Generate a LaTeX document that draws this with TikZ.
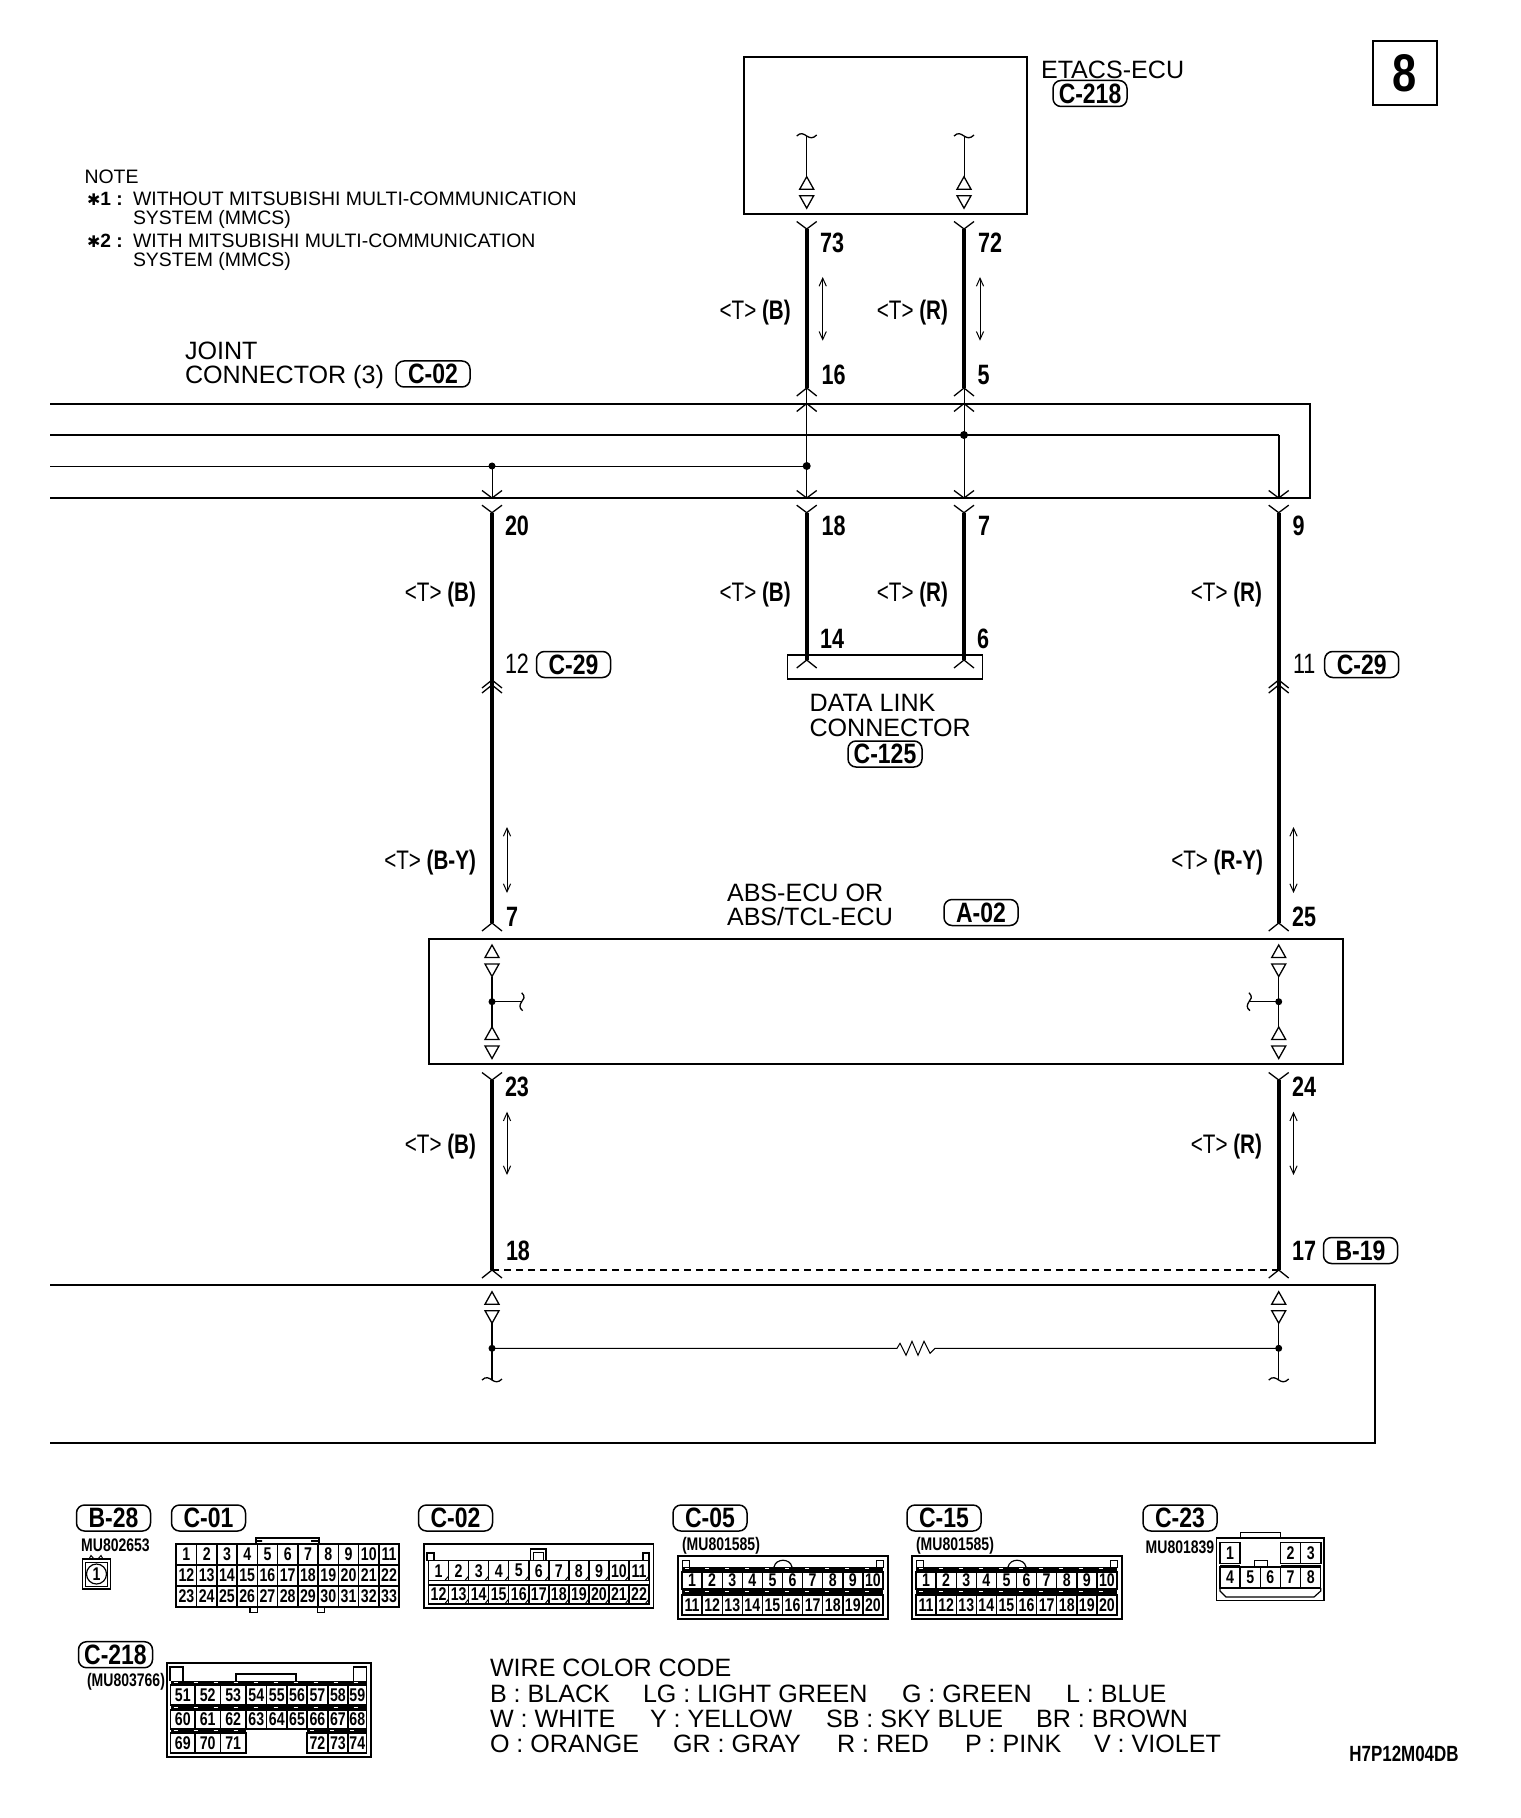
\documentclass[tikz,border=0pt]{standalone}
\usepackage{fontspec}
\usetikzlibrary{arrows.meta}
\setmainfont{Liberation Sans}
\newfontfamily\cond[FakeStretch=0.77]{Liberation Sans}
\newfontfamily\condt[FakeStretch=0.82]{Liberation Sans}
\newfontfamily\dvs{DejaVu Sans}
\newcommand\fs[1]{\fontsize{#1}{#1}\selectfont}
\tikzset{
  txt/.style={inner sep=0,outer sep=0,anchor=base west,font=\fs{12.55}},
  smalltxt/.style={inner sep=0,outer sep=0,anchor=base west,font=\fs{9.73}},
  numlab/.style={inner sep=0,outer sep=0,anchor=west,font=\cond\bfseries\fs{14}},
  wirelab/.style={inner sep=0,outer sep=0,anchor=east,yshift=-1.7pt,font=\cond\fs{13.4}},
  tagbox/.style={draw,line width=0.75pt,rounded corners=4pt,minimum width=37pt,minimum height=13pt,inner sep=0,font=\condt\bfseries\fs{14}},
  mucode/.style={inner sep=0,outer sep=0,font=\cond\bfseries\fs{9.1}},
  pin/.style={draw,line width=0.7pt,inner sep=0,outer sep=0,anchor=north west,font=\cond\bfseries\fs{9.2}},
  thickwire/.style={line width=2.2pt},
  thinwire/.style={line width=0.5pt},
  busline/.style={line width=1pt},
  boxline/.style={line width=1pt},
  symline/.style={line width=0.65pt},
  dbl/.style={line width=0.5pt,{Straight Barb[length=4pt,width=3.6pt]}-{Straight Barb[length=4pt,width=3.6pt]}},
  pics/yfork/.style={code={\draw[symline] (-10,-7.5)--(0,0)--(10,-7.5);}},
  pics/chev/.style={code={\draw[symline] (-10,8)--(0,0)--(10,8);}},
  pics/tripair/.style={code={
    \draw[symline,line join=miter] (0,0)--(-7,12.5)--(7,12.5)--cycle;
    \draw[symline,line join=miter] (-7,19)--(7,19)--(0,31.5)--cycle;}},
  pics/htilde/.style={code={\draw[symline] (-10,0) .. controls (-6,-4) and (-3,-2) .. (0,0) .. controls (3,2) and (6,3) .. (10,-1);}},
  pics/vtilde/.style={code={\draw[symline] (0,-9) .. controls (4,-5) and (2,-2) .. (0,0) .. controls (-2,3) and (-3,6) .. (1,9);}},
}
\newcommand\pinrow[6]{\foreach \n [count=\c from 0] in {#6} {%
  \pgfmathsetmacro\xx{#2+\c*#4}%
  \node[pin,minimum width=#4*0.5pt,minimum height=#5*0.5pt] (#1-\n) at (\xx,#3) {\n};}}
\newcommand\pinirr[4]{\foreach \n/\l/\r in {#4} {%
  \pgfmathsetmacro\ww{\r-\l}%
  \node[pin,minimum width=\ww*0.5pt,minimum height=#3*0.5pt] (#1-\n) at (\l,#2) {\n};}}
\newcommand\band[4]{\fill (#1,#3) rectangle (#2,#3+#4);
  \draw[white,line width=0.3pt,dash pattern=on 2pt off 8pt] (#1+3,#3+1) -- (#2,#3+1);}
\begin{document}
\begin{tikzpicture}[x=0.5pt,y=-0.5pt,line cap=butt]
\fill[white] (0,0) rectangle (1520,1818);
\useasboundingbox (0,0) rectangle (1520,1818);
% page number
\node[draw,line width=1pt,minimum width=32pt,minimum height=32pt,inner sep=0,font=\condt\bfseries\fs{26.5}] (pagenum) at (1405,73) {8};
% notes
\node[smalltxt] (note) at (84.5,184) {NOTE};
\node[smalltxt] (n1a) at (133,206) {WITHOUT MITSUBISHI MULTI-COMMUNICATION};
\node[smalltxt] (n1b) at (133,225) {SYSTEM (MMCS)};
\node[smalltxt] (n2a) at (133,248) {WITH MITSUBISHI MULTI-COMMUNICATION};
\node[smalltxt] (n2b) at (133,267) {SYSTEM (MMCS)};
\node[smalltxt,font=\bfseries\fs{9.6}] (n1s) at (87,206) {{\dvs\fs{8}✱}1 :};
\node[smalltxt,font=\bfseries\fs{9.6}] (n2s) at (87,248) {{\dvs\fs{8}✱}2 :};
% ETACS
\node[draw,boxline,minimum width=141.5pt,minimum height=78.5pt,inner sep=0] (etacs) at (885.3,135.4) {};
\node[txt] (etacslab) at (1041,78.5) {ETACS-ECU};
\node[tagbox] (t218) at (1090,93.5) {C-218};
% joint
\node[txt] (jt1) at (185,359.5) {JOINT};
\node[txt] (jt2) at (185,384) {CONNECTOR (3)};
\node[tagbox] (t02) at (433,374) {C-02};
% coordinates
\foreach \nm/\xc in {b/806.7,c/964}{
  \coordinate (\nm tilde) at (\xc,136);
  \coordinate (\nm tri) at (\xc,176.7);
  \coordinate (\nm top) at (\xc,229);
  \coordinate (\nm mid) at (\xc,388);
  \coordinate (\nm chv) at (\xc,403.5);
  \coordinate (\nm jn) at (\xc,498);
  \coordinate (\nm low) at (\xc,512.7);
  \coordinate (\nm end) at (\xc,660);
}
\foreach \nm in {b,c}{
  \draw[thinwire] (\nm tilde) -- (\nm tri);
  \pic at (\nm tilde) {htilde};
  \pic at (\nm tri) {tripair};
  \pic at (\nm top) {yfork};
  \draw[thickwire] (\nm top) -- (\nm mid);
  \pic at (\nm mid) {chev};
  \pic at (\nm chv) {chev};
  \draw[thinwire] (\nm mid) -- (\nm jn);
  \pic at (\nm jn) {yfork};
  \pic at (\nm low) {yfork};
  \draw[thickwire] (\nm low) -- (\nm end);
  \pic at (\nm end) {chev};
}
% buses
\coordinate (bL1) at (50,404); \coordinate (bR1) at (1310.3,404);
\coordinate (bR4) at (1310.3,498); \coordinate (bL4) at (50,498);
\coordinate (bL2) at (50,435); \coordinate (bR2) at (1278.7,435);
\coordinate (bL3) at (50,466); \coordinate (dn3) at (806.7,466);
\coordinate (dn2) at (964,435); \coordinate (dn1) at (492,466);
\draw[busline] (bL1) -- (bR1) -- (bR4) -- (bL4);
\draw[busline] (bL2) -- (bR2);
\draw[thinwire] (bL3) -- (dn3);
\fill (dn3) circle (4); \fill (dn2) circle (4); \fill (dn1) circle (3.5);
% vertical wires left and right
\foreach \nm/\xc in {a/492,d/1278.7}{
  \coordinate (\nm jn) at (\xc,498);
  \coordinate (\nm low) at (\xc,512.7);
  \coordinate (\nm chA) at (\xc,680);
  \coordinate (\nm chB) at (\xc,685);
  \coordinate (\nm ecu) at (\xc,923);
  \coordinate (\nm tA) at (\xc,945);
  \coordinate (\nm dot) at (\xc,1001.7);
  \coordinate (\nm tB) at (\xc,1027);
  \coordinate (\nm tAe) at (\xc,976.5);
  \coordinate (\nm y) at (\xc,1080);
  \coordinate (\nm bot) at (\xc,1270);
  \coordinate (\nm tC) at (\xc,1291.7);
  \coordinate (\nm tCe) at (\xc,1323);
  \coordinate (\nm dotc) at (\xc,1348.3);
  \coordinate (\nm til) at (\xc,1380);
}
\draw[thinwire] (dn1) -- (ajn);
\draw[line width=0.8pt] (bR2) -- (djn);
\foreach \nm in {a,d}{
  \pic at (\nm jn) {yfork};
  \pic at (\nm low) {yfork};
  \draw[thickwire] (\nm low) -- (\nm ecu);
  \pic at (\nm chA) {chev};
  \pic at (\nm chB) {chev};
  \pic at (\nm ecu) {chev};
  \pic at (\nm tA) {tripair};
  \pic at (\nm tB) {tripair};
  \draw[symline] (\nm tAe) -- (\nm tB);
  \fill (\nm dot) circle (3.5);
  \pic at (\nm y) {yfork};
  \draw[thickwire] (\nm y) -- (\nm bot);
  \pic at (\nm bot) {chev};
  \pic at (\nm tC) {tripair};
  \draw[symline] (\nm tCe) -- (\nm til);
  \fill (\nm dotc) circle (3.5);
  \pic at (\nm til) {htilde};
}
\coordinate (atail) at (521.7,1001.7); \coordinate (dtail) at (1249,1001.7);
\draw[symline] (adot) -- (atail); \pic at (atail) {vtilde};
\draw[symline] (ddot) -- (dtail); \pic at (dtail) {vtilde};
\draw[line width=0.7pt,dash pattern=on 3.7pt off 2.3pt] (abot) -- (dbot);
% resistor
\coordinate (rA) at (897,1348.3); \coordinate (rB) at (935,1348.3);
\draw[thinwire] (adotc) -- (rA) -- ++(3,-5) -- ++(6,12) -- ++(6,-14) -- ++(6,14) -- ++(6,-14) -- ++(6,12) -- (rB) -- (ddotc);
% boxes
\node[draw,boxline,minimum width=457pt,minimum height=62.6pt,inner sep=0] (abs) at (886,1001.7) {};
\draw[boxline] (50,1285) -- (1375,1285) -- (1375,1442.7) -- (50,1442.7);
\node[draw,line width=0.8pt,minimum width=97.5pt,minimum height=11.8pt,inner sep=0] (dlc) at (885,667) {};
% wire labels
\node[wirelab] (l1) at (790.7,309) {<T> \textbf{(B)}};
\node[wirelab] (l2) at (948,309) {<T> \textbf{(R)}};
\node[wirelab] (l3) at (476,591.5) {<T> \textbf{(B)}};
\node[wirelab] (l4) at (790.7,591.5) {<T> \textbf{(B)}};
\node[wirelab] (l5) at (948,591.5) {<T> \textbf{(R)}};
\node[wirelab] (l6) at (1262,591.5) {<T> \textbf{(R)}};
\node[wirelab] (l7) at (476,859) {<T> \textbf{(B-Y)}};
\node[wirelab] (l8) at (1263,859) {<T> \textbf{(R-Y)}};
\node[wirelab] (l9) at (476,1143) {<T> \textbf{(B)}};
\node[wirelab] (l10) at (1262,1143) {<T> \textbf{(R)}};
% numbers
\node[numlab] (p73) at (820,243) {73};
\node[numlab] (p72) at (978,243) {72};
\node[numlab] (p16) at (821.7,375) {16};
\node[numlab] (p5) at (977.7,375) {5};
\node[numlab] (p18a) at (821.7,526) {18};
\node[numlab] (p7a) at (978,526) {7};
\node[numlab] (p20) at (505,526) {20};
\node[numlab] (p9) at (1292.7,526) {9};
\node[numlab] (p14) at (820,639) {14};
\node[numlab] (p6) at (977,639) {6};
\node[numlab,font=\cond\fs{14}] (p12) at (505,664) {12};
\node[numlab,font=\cond\fs{14}] (p11) at (1293,664) {11};
\node[numlab] (p7b) at (506,916.5) {7};
\node[numlab] (p25) at (1292,916.5) {25};
\node[numlab] (p23) at (505,1086.7) {23};
\node[numlab] (p24) at (1292,1086.7) {24};
\node[numlab] (p18b) at (506,1250.7) {18};
\node[numlab] (p17) at (1292,1250.7) {17};
\node[tagbox] (t29a) at (573.5,664.5) {C-29};
\node[tagbox] (t29b) at (1361.7,664.5) {C-29};
\node[tagbox] (t19) at (1360.5,1250.5) {B-19};
\node[tagbox] (tA02) at (981,912.5) {A-02};
\node[tagbox] (t125) at (885,754) {C-125};
\node[txt] (dl1) at (809.5,711.5) {DATA LINK};
\node[txt] (dl2) at (809.5,736) {CONNECTOR};
\node[txt] (ab1) at (727,901) {ABS-ECU OR};
\node[txt] (ab2) at (727,925.5) {ABS/TCL-ECU};
% double arrows
\draw[dbl] (822.7,277) -- (822.7,340.7);
\draw[dbl] (980,277) -- (980,340.7);
\draw[dbl] (507,827) -- (507,893);
\draw[dbl] (1293.5,827) -- (1293.5,893);
\draw[dbl] (507,1111.7) -- (507,1175);
\draw[dbl] (1293.5,1111.7) -- (1293.5,1175);
% ---- connector pictures ----
\node[tagbox] (tB28) at (113.5,1518) {B-28};
\node[tagbox] (tC01) at (208.5,1518) {C-01};
\node[tagbox] (tC02) at (455.5,1518) {C-02};
\node[tagbox] (tC05) at (710,1518) {C-05};
\node[tagbox] (tC15) at (944,1518) {C-15};
\node[tagbox] (tC23) at (1180,1518) {C-23};
\node[tagbox] (tC218) at (115.5,1654.7) {C-218};
\node[mucode] (mB28) at (115.5,1545) {MU802653};
\node[mucode] (mC05) at (721,1546) {(MU801585)};
\node[mucode] (mC15) at (955,1546) {(MU801585)};
\node[mucode] (mC23) at (1180,1547) {MU801839};
\node[mucode] (mC218) at (126,1682) {(MU803766)};
% B-28
\draw[line width=0.8pt] (82.4,1559) rectangle (110.6,1589);
\draw[line width=0.5pt] (85.5,1562) rectangle (107.5,1586);
\draw[line width=0.5pt] (89,1559) -- (91,1555.5) -- (94,1559) (98,1559) -- (101,1555.5) -- (103,1559);
\node[draw,circle,line width=0.6pt,minimum size=10pt,inner sep=0,font=\cond\bfseries\fs{9.2}] (pB28) at (96.5,1574) {1};
% C-01
\draw[line width=1pt] (176.3,1544) rectangle (399.2,1607);
\pinrow{C01}{176.3}{1544}{20.26}{21}{1,2,3,4,5,6,7,8,9,10,11}
\pinrow{C01}{176.3}{1565}{20.26}{21}{12,13,14,15,16,17,18,19,20,21,22}
\pinrow{C01}{176.3}{1586}{20.26}{21}{23,24,25,26,27,28,29,30,31,32,33}
\draw[line width=0.6pt] (256,1544) -- (256,1541) -- (262,1541) -- (256,1541) -- (256,1538) -- (319,1538) -- (319,1541) -- (311,1541) -- (319,1541) -- (319,1544);
\draw[line width=0.6pt] (250,1607) -- (250,1612.5) -- (257.6,1612.5) -- (257.6,1607);
\draw[line width=0.6pt] (317.6,1607) -- (317.6,1612.5) -- (324.5,1612.5) -- (324.5,1607);
% C-02
\draw[line width=0.9pt] (423.7,1544) rectangle (653.5,1608);
\pinrow{C02}{428.6}{1560.7}{20.04}{20}{1,2,3,4,5,6,7,8,9,10,11}
\pinrow{C02}{428.6}{1585}{20.04}{19}{12,13,14,15,16,17,18,19,20,21,22}
\draw[line width=0.5pt] (428.6,1580.7) -- (428.6,1585) (649,1580.7) -- (649,1585);
\foreach \i in {1,...,11}{
  \pgfmathsetmacro\xx{428.6+\i*20.04}
  \draw[line width=0.5pt] (\xx-4,1580.7) -- (\xx,1576) (\xx-4,1604) -- (\xx,1599);
}
\draw[line width=0.6pt] (427,1560.7) |- (434,1553) -- (434,1560.7);
\draw[line width=0.6pt] (643,1560.7) |- (649,1553) -- (649,1560.7);
\draw[line width=0.8pt] (530.6,1560.7) |- (546,1549) -- (546,1560.7);
\draw[line width=0.5pt] (533.5,1560.7) |- (543,1552) -- (543,1560.7);
% C-05 and C-15
\foreach \pre/\ox in {C05/0,C15/234}{
  \draw[line width=1pt] (678+\ox,1556) rectangle (888+\ox,1619);
  \pinrow{\pre}{682+\ox}{1572}{20.1}{17}{1,2,3,4,5,6,7,8,9,10}
  \pinrow{\pre}{682+\ox}{1595}{20.1}{20}{11,12,13,14,15,16,17,18,19,20}
  \band{682+\ox}{883+\ox}{1567}{5}
  \band{682+\ox}{883+\ox}{1590}{5}
  \draw[line width=0.5pt] (682+\ox,1560) rectangle (689+\ox,1567);
  \draw[line width=0.5pt] (876.5+\ox,1560) rectangle (883+\ox,1567);
  \draw[line width=0.6pt] (774+\ox,1567) .. controls (776+\ox,1558) and (790+\ox,1558) .. (792+\ox,1567);
}
% C-23
\draw[line width=0.7pt] (1216.7,1538) rectangle (1324,1600.7);
\draw[line width=0.5pt] (1240,1538) -- (1240,1532) -- (1280.5,1532) -- (1280.5,1538);
\pinrow{C23}{1220}{1542.5}{20.15}{21}{1}
\pinrow{C23}{1280.5}{1542.5}{20.15}{21}{2,3}
\pinrow{C23}{1220}{1567}{20.15}{21}{4,5,6,7,8}
\draw[line width=0.8pt] (1220,1565.5) -- (1240,1565.5) (1280.5,1565.5) -- (1320.7,1565.5);
\draw[line width=0.5pt] (1254,1567) -- (1254,1560) -- (1267,1560) -- (1267,1567);
\draw[line width=0.6pt] (1220,1588) -- (1220,1591) -- (1226,1597) -- (1314,1597) -- (1320.7,1591) -- (1320.7,1588);
% C-218
\draw[line width=1pt] (166.5,1663) rectangle (370.6,1757);
\draw[line width=0.6pt] (170,1681) -- (170,1667) -- (183,1667) -- (183,1681);
\draw[line width=0.6pt] (353.5,1681) -- (353.5,1667) -- (366.5,1667) -- (366.5,1681);
\draw[line width=0.6pt] (236,1681) -- (236,1674) -- (296,1674) -- (296,1681);
\pinirr{C218}{1685}{20}{51/170.6/195,52/195/220.4,53/220.4/246,54/246/266.5,55/266.5/287,56/287/307,57/307/327.8,58/327.8/348,59/348/366.5}
\pinirr{C218}{1710}{19}{60/170.6/195,61/195/220.4,62/220.4/246,63/246/266.5,64/266.5/287,65/287/307,66/307/327.8,67/327.8/348,68/348/366.5}
\pinirr{C218}{1733}{20}{69/170.6/195,70/195/220.4,71/220.4/246,72/307/327.8,73/327.8/348,74/348/366.5}
\band{170.6}{366.5}{1681}{4}
\band{170.6}{366.5}{1706}{4}
\band{170.6}{246}{1729.5}{3.5}
\band{307}{366.5}{1729.5}{3.5}
% Wire colour code
\node[txt] (cc0) at (490,1676.5) {WIRE COLOR CODE};
\node[txt] (cc11) at (490,1702) {B : BLACK};
\node[txt] (cc12) at (643,1702) {LG : LIGHT GREEN};
\node[txt] (cc13) at (902,1702) {G : GREEN};
\node[txt] (cc14) at (1066,1702) {L : BLUE};
\node[txt] (cc21) at (490,1727) {W : WHITE};
\node[txt] (cc22) at (650,1727) {Y : YELLOW};
\node[txt] (cc23) at (826,1727) {SB : SKY BLUE};
\node[txt] (cc24) at (1036,1727) {BR : BROWN};
\node[txt] (cc31) at (490,1752.5) {O : ORANGE};
\node[txt] (cc32) at (673,1752.5) {GR : GRAY};
\node[txt] (cc33) at (837,1752.5) {R : RED};
\node[txt] (cc34) at (965,1752.5) {P : PINK};
\node[txt] (cc35) at (1094,1752.5) {V : VIOLET};
\node[inner sep=0,font=\cond\bfseries\fs{11}] (code) at (1404,1754) {H7P12M04DB};
\end{tikzpicture}
\end{document}
